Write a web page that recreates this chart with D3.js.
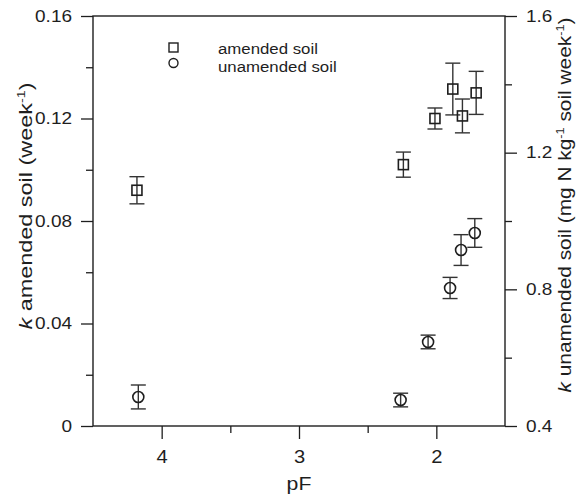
<!DOCTYPE html>
<html>
<head>
<meta charset="utf-8">
<script src="https://cdn.jsdelivr.net/npm/d3@7"></script>
<style>
  body { margin: 0; background: #fff; }
  svg { display: block; font-family: "Liberation Sans", Arial, sans-serif; }
</style>
</head>
<body>
<svg width="578" height="499"></svg>
<script>
// data
const pfAmended = [4.18, 2.24, 2.01, 1.88, 1.81, 1.71]
const kAmended = [0.092, 0.102, 0.120, 0.1315, 0.121, 0.130]
const errAmended = [0.0053, 0.0049, 0.0041, 0.0101, 0.0066, 0.0084]

const pfUnamended = [4.17, 2.26, 2.06, 1.90, 1.82, 1.72]
const kUnamended = [0.485, 0.476, 0.646, 0.804, 0.915, 0.965]
const errUnamended = [0.035, 0.020, 0.020, 0.031, 0.045, 0.042]

const xTicks = [4, 3, 2]
const xMinor = [3.5, 2.5]
const yLeftTicks = [0, 0.04, 0.08, 0.12, 0.16]
const yLeftMinor = [0.02, 0.06, 0.10, 0.14]
const yRightTicks = [0.4, 0.8, 1.2, 1.6]
const yRightMinor = [0.6, 1.0, 1.4]

const svg = d3.select('svg')
const ink = '#1e1e1e'
const margin = {top: 16, left: 93, right: 73, bottom: 73}
const width = +svg.attr('width')
const height = +svg.attr('height')
const w = width - margin.left - margin.right
const h = height - margin.top - margin.bottom

const x = d3.scaleLinear().domain([4.5, 1.5]).range([0, w])
const yL = d3.scaleLinear().domain([0, 0.16]).range([h, 0])
const yR = d3.scaleLinear().domain([0.4, 1.6]).range([h, 0])

const g = svg.append('g').attr('transform', `translate(${margin.left},${margin.top})`)

const fmtL = d => d === 0 ? '0' : d3.format('.2f')(d)
const fmtR = d => d3.format('.1f')(d)

// the original lettering is a bit wider than Arial
function stretch(sel, f) {
  sel.each(function () {
    const L = this.getComputedTextLength()
    d3.select(this).attr('textLength', L * f).attr('lengthAdjust', 'spacingAndGlyphs')
  })
}

function styleAxis(sel) {
  sel.select('.domain').remove()
  sel.selectAll('line').attr('stroke', ink).attr('stroke-width', 1.3)
  sel.selectAll('text').attr('fill', ink).attr('font-size', 16.5)
}

// bottom axis
g.append('g').attr('transform', `translate(0,${h})`)
  .call(d3.axisBottom(x).tickValues(xTicks).tickSize(13).tickPadding(12).tickFormat(d3.format('d')))
  .call(styleAxis)
  .selectAll('text').attr('font-size', 17.5).call(stretch, 1.15)
g.append('g').attr('transform', `translate(0,${h})`)
  .call(d3.axisBottom(x).tickValues(xMinor).tickSize(7).tickFormat(''))
  .call(styleAxis)

// left axis
g.append('g')
  .call(d3.axisLeft(yL).tickValues(yLeftTicks).tickSize(12).tickPadding(9).tickFormat(fmtL))
  .call(styleAxis)
  .selectAll('text').call(stretch, 1.15)
g.append('g')
  .call(d3.axisLeft(yL).tickValues(yLeftMinor).tickSize(7).tickFormat(''))
  .call(styleAxis)

// right axis
g.append('g').attr('transform', `translate(${w},0)`)
  .call(d3.axisRight(yR).tickValues(yRightTicks).tickSize(12).tickPadding(9).tickFormat(fmtR))
  .call(styleAxis)
  .selectAll('text').call(stretch, 1.15)
g.append('g').attr('transform', `translate(${w},0)`)
  .call(d3.axisRight(yR).tickValues(yRightMinor).tickSize(7).tickFormat(''))
  .call(styleAxis)

// frame
g.append('rect').attr('width', w).attr('height', h)
  .attr('fill', 'none').attr('stroke', ink).attr('stroke-width', 1.4)

// axis titles
g.append('text').attr('x', w / 2).attr('y', h + 64)
  .attr('text-anchor', 'middle').attr('font-size', 18).attr('fill', ink).text('pF')
  .call(stretch, 1.18)

const lt = svg.append('text')
  .attr('transform', `translate(32,206) rotate(-90)`)
  .attr('text-anchor', 'middle').attr('font-size', 18).attr('fill', ink)
  .attr('textLength', 247).attr('lengthAdjust', 'spacingAndGlyphs')
lt.append('tspan').attr('font-style', 'italic').text('k')
lt.append('tspan').text(' amended soil (week')
lt.append('tspan').attr('font-size', 11).attr('dy', -7).text('-1')
lt.append('tspan').attr('dy', 7).text(')')

const rt = svg.append('text')
  .attr('transform', `translate(571,205) rotate(-90)`)
  .attr('text-anchor', 'middle').attr('font-size', 18).attr('fill', ink)
  .attr('textLength', 375).attr('lengthAdjust', 'spacingAndGlyphs')
rt.append('tspan').attr('font-style', 'italic').text('k')
rt.append('tspan').text(' unamended soil (mg N kg')
rt.append('tspan').attr('font-size', 11).attr('dy', -7).text('-1')
rt.append('tspan').attr('dy', 7).text(' soil week')
rt.append('tspan').attr('font-size', 11).attr('dy', -7).text('-1')
rt.append('tspan').attr('dy', 7).text(')')

// data
const amended = pfAmended.map((p, i) => ({pf: p, k: kAmended[i], e: errAmended[i]}))
const unamended = pfUnamended.map((p, i) => ({pf: p, k: kUnamended[i], e: errUnamended[i]}))

function errorBars(data, y) {
  const eb = g.append('g').attr('stroke', '#333').attr('stroke-width', 1.4)
  eb.selectAll('.v').data(data).enter().append('line')
    .attr('x1', d => x(d.pf)).attr('x2', d => x(d.pf))
    .attr('y1', d => y(d.k - d.e)).attr('y2', d => y(d.k + d.e))
  eb.selectAll('.top').data(data).enter().append('line')
    .attr('x1', d => x(d.pf) - 7.5).attr('x2', d => x(d.pf) + 7.5)
    .attr('y1', d => y(d.k + d.e)).attr('y2', d => y(d.k + d.e))
  eb.selectAll('.bot').data(data).enter().append('line')
    .attr('x1', d => x(d.pf) - 7.5).attr('x2', d => x(d.pf) + 7.5)
    .attr('y1', d => y(d.k - d.e)).attr('y2', d => y(d.k - d.e))
}
errorBars(amended, yL)
errorBars(unamended, yR)

g.selectAll('.sq').data(amended).enter().append('rect')
  .attr('x', d => x(d.pf) - 5).attr('y', d => yL(d.k) - 5)
  .attr('width', 10).attr('height', 10)
  .attr('fill', 'none').attr('stroke', ink).attr('stroke-width', 1.6)

g.selectAll('.ci').data(unamended).enter().append('circle')
  .attr('cx', d => x(d.pf)).attr('cy', d => yR(d.k)).attr('r', 5.5)
  .attr('fill', 'none').attr('stroke', ink).attr('stroke-width', 1.6)

// legend
const leg = svg.append('g')
leg.append('rect').attr('x', 169).attr('y', 43).attr('width', 9).attr('height', 9)
  .attr('fill', 'none').attr('stroke', ink).attr('stroke-width', 1.4)
leg.append('circle').attr('cx', 173.5).attr('cy', 63).attr('r', 4.5)
  .attr('fill', 'none').attr('stroke', ink).attr('stroke-width', 1.4)
leg.append('text').attr('x', 218).attr('y', 54).attr('font-size', 14).attr('fill', ink)
  .text('amended soil').call(stretch, 1.2)
leg.append('text').attr('x', 218).attr('y', 72).attr('font-size', 14).attr('fill', ink)
  .text('unamended soil').call(stretch, 1.2)
</script>
</body>
</html>
